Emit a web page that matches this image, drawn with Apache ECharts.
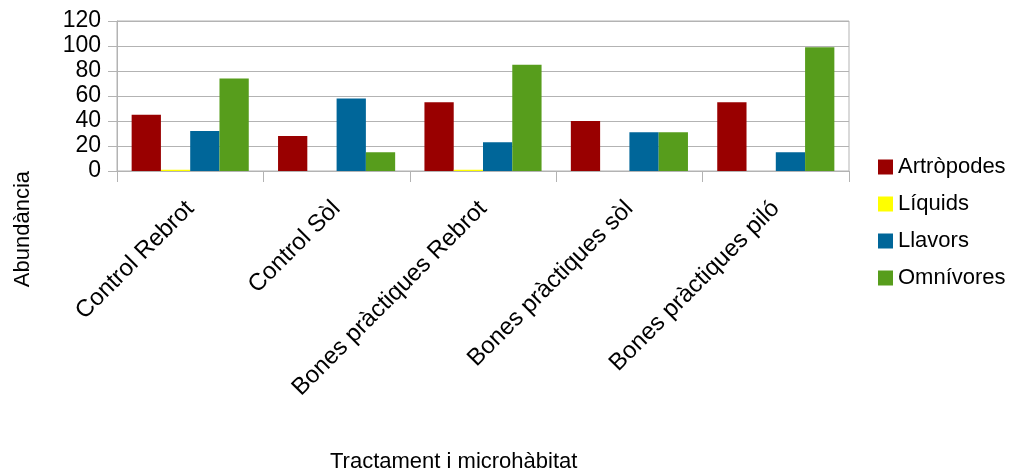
<!DOCTYPE html>
<html>
<head>
<meta charset="utf-8">
<script src="https://cdn.jsdelivr.net/npm/echarts@6/dist/echarts.min.js"></script>
<style>
  html, body { margin: 0; padding: 0; background: #ffffff; }
  #chart { width: 1017px; height: 473px; }
</style>
</head>
<body>
<div id="chart"></div>
<script>
// Categories (treatment and microhabitat)
const categories = ['Control Rebrot', 'Control Sòl', 'Bones pràctiques Rebrot', 'Bones pràctiques sòl', 'Bones pràctiques piló'];

// Abundance per feeding group
const artropodes = [45, 28, 55, 40, 55];
const liquids    = [1, 0, 1, 0, 0];
const llavors    = [32, 58, 23, 31, 15];
const omnivores  = [74, 15, 85, 31, 99];

const seriesNames = ['Artròpodes', 'Líquids', 'Llavors', 'Omnívores'];
const seriesData  = [artropodes, liquids, llavors, omnivores];
const colors      = ['#990000', '#ffff00', '#006699', '#579d1c'];

const font = 'Liberation Sans, Arial, sans-serif';
const gridColor = '#b3b3b3';

const chart = echarts.init(document.getElementById('chart'), null, { renderer: 'canvas' });

chart.setOption({
  animation: false,
  backgroundColor: '#ffffff',
  textStyle: { fontFamily: font },
  grid: {
    left: 117, right: 168, top: 21, bottom: 302,
    show: true, borderColor: gridColor, borderWidth: 1,
    containLabel: false
  },
  legend: {
    orient: 'vertical',
    left: 873, top: 151,
    itemWidth: 15, itemHeight: 15,
    itemGap: 15,
    icon: 'rect',
    textStyle: { fontSize: 22, color: '#000000', fontFamily: font, padding: [0, 0, 0, 0] },
    data: seriesNames
  },
  xAxis: {
    type: 'category',
    data: categories,
    axisLine: { show: true, lineStyle: { color: gridColor, width: 1 } },
    axisTick: { show: true, length: 11, lineStyle: { color: gridColor } },
    axisLabel: {
      interval: 0, rotate: 45, margin: 34,
      fontSize: 24, color: '#000000', fontFamily: font
    },
    splitLine: { show: false }
  },
  yAxis: {
    type: 'value',
    min: 0, max: 120, interval: 20,
    axisLine: { show: true, lineStyle: { color: gridColor, width: 1 } },
    axisTick: { show: true, length: 9, lineStyle: { color: gridColor } },
    axisLabel: { margin: 16, fontSize: 23, color: '#000000', fontFamily: font },
    splitLine: { show: true, lineStyle: { color: gridColor, width: 1 } }
  },
  graphic: [
    {
      type: 'text',
      left: 12, top: 171,
      rotation: Math.PI / 2,
      style: { text: 'Abundància', fontSize: 22, fill: '#000000', fontFamily: font }
    },
    {
      type: 'text',
      left: 330, top: 451,
      style: { text: 'Tractament i microhàbitat', fontSize: 22, fill: '#000000', fontFamily: font }
    }
  ],
  series: seriesNames.map((name, i) => ({
    name,
    type: 'bar',
    data: seriesData[i],
    barGap: '0%',
    barCategoryGap: '20%',
    itemStyle: { color: colors[i] }
  }))
});
</script>
</body>
</html>
